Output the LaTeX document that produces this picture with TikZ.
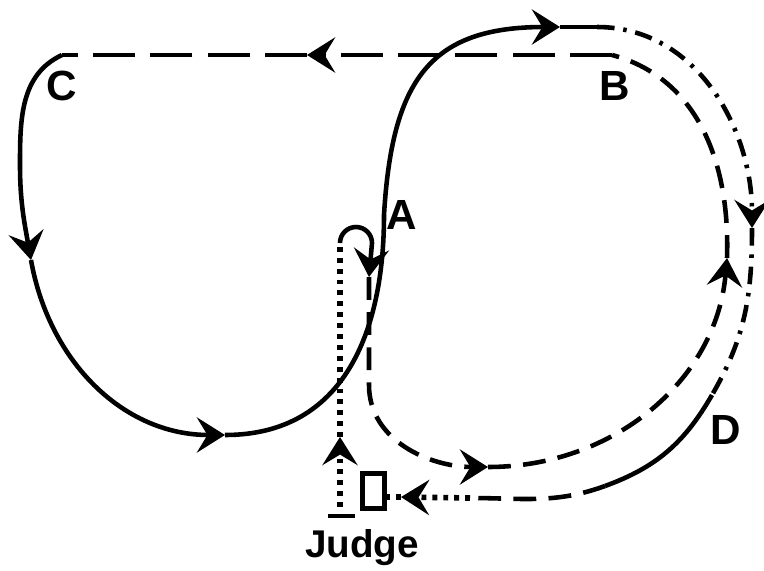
\documentclass[tikz,border=0pt]{standalone}
\usepackage{fontspec}
\setsansfont{Liberation Sans}
\usetikzlibrary{arrows.meta}

\begin{document}
\begin{tikzpicture}[x=0.1mm,y=0.1mm,line width=1.3pt,
    arrowtip/.style={-{Stealth[length=8pt,width=10pt,inset=3pt]}},
    longdash/.style={dash pattern=on 12pt off 4.3pt},
    shortdash/.style={dash pattern=on 6.5pt off 3.5pt},
    dashdot/.style={dash pattern=on 5pt off 2.5pt on 1pt off 2.5pt},
    dotline/.style={line width=1.6pt, dash pattern=on 1.4pt off 1.7pt},
    lab/.style={font=\sffamily\bfseries\fontsize{12}{14}\selectfont, inner sep=0pt}]
    \useasboundingbox (0,0) rectangle (764,570);

    \coordinate (C) at (62, 515);
    \coordinate (Cl) at (20, 405);
    \coordinate (ArrL) at (31, 310);
    \coordinate (ArrB) at (225, 135);
    \coordinate (A) at (384, 355);
    \coordinate (ArrT) at (560, 543);
    \coordinate (T) at (597, 543);

    \coordinate (ArrR) at (752, 342);
    \coordinate (D) at (712, 175);
    \coordinate (S1) at (605, 84);
    \coordinate (S2) at (470, 72);
    \coordinate (ArrJ) at (401, 73);
    \coordinate (BoxR) at (386, 73);

    \coordinate (JudgeL) at (328, 54);
    \coordinate (JudgeR) at (355, 54);
    \coordinate (JudgeM) at (340, 63);
    \coordinate (ArrJu) at (340, 133);
    \coordinate (ArcL) at (340, 327);
    \coordinate (ArrA) at (369, 293);
    \coordinate (K) at (369, 185);
    \coordinate (ArrI) at (488, 103);
    \coordinate (ArrU) at (727, 312);
    \coordinate (B) at (612, 515);
    \coordinate (ArrCB) at (307, 515);

    \node[lab] (LA) at (402, 355) {A};
    \node[lab] (LB) at (615, 484) {B};
    \node[lab] (LC) at (62, 484) {C};
    \node[lab] (LD) at (726, 140) {D};
    \node[lab, font=\sffamily\bfseries\fontsize{11}{13}\selectfont, anchor=base] (Judge) at (362, 13) {Judge};

    \node[draw, line width=1.4pt, minimum width=2.2mm, minimum height=3.5mm, inner sep=0pt] (Box) at (373.5, 79) {};

    \draw[arrowtip] (C) to[out=205, in=90] (Cl) to[out=-90, in=100] (ArrL);
    \draw[arrowtip] (ArrL) to[out=-80, in=180] (ArrB);
    \draw (ArrB) .. controls (345, 135) and (384, 240) .. (A);
    \draw[arrowtip] (A) .. controls (392, 490) and (430, 543) .. (ArrT);
    \draw (ArrT) -- (T);

    \draw[dashdot, arrowtip] (T) to[out=0, in=90] (ArrR);
    \draw[dashdot] (ArrR) to[out=-90, in=60] (D);
    \draw (D) to[out=240, in=20] (S1);
    \draw[shortdash] (S1) to[out=200, in=0] (S2);
    \draw[dotline, arrowtip] (S2) -- (ArrJ);
    \draw[dotline] (ArrJ) -- (BoxR);

    \draw[line width=1.2pt] (JudgeL) -- (JudgeR);
    \draw[dotline, arrowtip] (JudgeM) -- (ArrJu);
    \draw[dotline] (ArrJu) -- (ArcL);
    \draw[arrowtip] (ArcL) arc[start angle=180, end angle=0, radius=16] -- (ArrA);
    \draw[shortdash, arrowtip] (ArrA) -- (K) to[out=-90, in=180] (ArrI);
    \draw[shortdash, arrowtip] (ArrI) to[out=0, in=-95] (ArrU);
    \draw[shortdash] (ArrU) to[out=88, in=-15] (B);
    \draw[longdash, arrowtip] (B) -- (ArrCB);
    \draw[longdash] (ArrCB) -- (C);
\end{tikzpicture}
\end{document}
